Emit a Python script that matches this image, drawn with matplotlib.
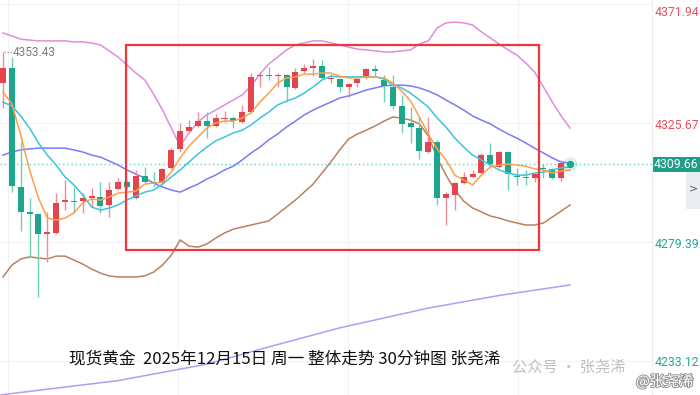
import matplotlib
matplotlib.use("Agg")
import matplotlib.pyplot as plt
import matplotlib.transforms as mtransforms
import matplotlib.patheffects as pe
from matplotlib.patches import Rectangle
import numpy as np

plt.rcParams['font.family'] = ['Noto Sans CJK SC', 'DejaVu Sans']

# ---------------- data (30-min XAUUSD candles) ----------------
opens = [4341.22, 4347.05, 4300.78, 4291.05, 4290.28, 4282.50, 4282.89, 4294.94, 4295.33, 4295.33,
         4296.50, 4296.89, 4293.78, 4300.00, 4302.72, 4296.50, 4305.05, 4302.72, 4302.33, 4308.16,
         4315.55, 4322.55, 4324.50, 4326.44, 4324.50, 4327.22, 4327.61, 4326.05, 4329.94, 4343.94,
         4344.33, 4343.94, 4344.33, 4339.28, 4345.89, 4347.05, 4347.83, 4342.78, 4342.78, 4339.67,
         4341.22, 4343.17, 4346.67, 4342.39, 4339.67, 4332.28, 4325.67, 4323.72, 4314.39, 4318.28,
         4296.50, 4297.66, 4302.33, 4304.66, 4306.22, 4313.22, 4308.55, 4314.39, 4305.05, 4304.66,
         4304.28, 4308.16, 4307.78, 4304.28]
highs = [4353.43, 4351.33, 4318.28, 4296.50, 4290.66, 4291.05, 4298.44, 4303.50, 4300.78, 4298.44,
         4300.39, 4302.72, 4302.72, 4304.28, 4303.50, 4307.39, 4308.55, 4306.61, 4308.16, 4315.94,
         4325.67, 4326.83, 4329.94, 4329.94, 4329.17, 4330.33, 4328.39, 4332.67, 4345.11, 4345.50,
         4347.44, 4345.11, 4344.72, 4347.05, 4348.61, 4350.55, 4350.17, 4344.72, 4343.17, 4341.22,
         4343.17, 4347.05, 4348.22, 4344.33, 4344.33, 4336.55, 4331.89, 4328.00, 4328.00, 4319.05,
         4298.83, 4302.72, 4306.61, 4307.39, 4314.00, 4317.89, 4314.78, 4314.78, 4308.16, 4307.39,
         4306.22, 4309.72, 4308.16, 4311.28]
lows = [4331.50, 4298.83, 4283.66, 4273.55, 4258.00, 4271.61, 4282.50, 4291.83, 4290.66, 4290.66,
        4293.00, 4290.66, 4289.11, 4299.61, 4300.00, 4296.11, 4302.33, 4300.78, 4301.94, 4307.78,
        4314.39, 4322.17, 4324.11, 4319.83, 4324.11, 4326.05, 4323.72, 4325.67, 4329.55, 4339.67,
        4342.39, 4339.67, 4333.83, 4338.89, 4345.11, 4343.94, 4342.78, 4341.22, 4337.72, 4335.78,
        4339.67, 4342.78, 4343.55, 4333.83, 4331.11, 4321.78, 4317.89, 4311.66, 4314.00, 4293.78,
        4286.00, 4291.83, 4301.94, 4304.28, 4305.83, 4309.33, 4308.16, 4299.61, 4301.55, 4301.55,
        4302.72, 4304.28, 4303.89, 4303.11]
closes = [4347.05, 4301.16, 4291.05, 4290.28, 4282.50, 4283.28, 4294.55, 4295.72, 4294.94, 4296.50,
          4297.28, 4293.39, 4299.61, 4302.72, 4300.78, 4305.05, 4302.72, 4301.94, 4307.78, 4315.16,
          4322.55, 4324.11, 4326.44, 4324.50, 4327.61, 4327.61, 4326.44, 4329.94, 4343.55, 4344.33,
          4343.94, 4344.33, 4339.67, 4345.50, 4347.05, 4347.83, 4343.17, 4343.17, 4339.67, 4340.83,
          4342.78, 4346.67, 4345.89, 4340.05, 4332.28, 4325.28, 4324.11, 4314.78, 4318.28, 4296.50,
          4298.05, 4302.33, 4304.66, 4305.83, 4313.22, 4309.72, 4314.39, 4305.83, 4304.66, 4304.28,
          4305.83, 4307.78, 4304.28, 4310.11]

# indicator lines (one value per candle slot 0..64)
ma_fast = [4337.7, 4333.1, 4321.0, 4307.4, 4296.5, 4288.7, 4287.9, 4288.7, 4290.7, 4294.6,
           4296.1, 4295.7, 4296.9, 4298.4, 4298.8, 4299.2, 4301.9, 4302.3, 4302.7, 4306.6,
           4312.1, 4316.7, 4320.2, 4323.7, 4325.7, 4326.4, 4326.4, 4327.6, 4329.6, 4333.8,
           4337.3, 4341.2, 4343.2, 4343.6, 4344.7, 4344.7, 4345.1, 4345.1, 4343.9, 4343.2,
           4343.2, 4343.6, 4343.6, 4343.2, 4341.2, 4338.1, 4334.2, 4328.0, 4321.4, 4315.6,
           4311.3, 4305.4, 4303.5, 4301.6, 4305.4, 4308.6, 4309.3, 4309.7, 4309.3, 4308.9,
           4307.8, 4307.4, 4306.2, 4307.0, 4307.4]
ma_mid = [4333.8, 4332.3, 4328.4, 4323.7, 4317.9, 4313.2, 4309.3, 4304.7, 4301.6, 4297.7,
          4293.0, 4291.8, 4292.6, 4293.8, 4295.7, 4297.3, 4298.8, 4299.6, 4301.9, 4304.7,
          4307.4, 4310.5, 4313.6, 4316.3, 4318.7, 4320.2, 4321.8, 4322.9, 4324.9, 4327.6,
          4329.9, 4332.7, 4334.2, 4335.4, 4337.3, 4339.7, 4342.4, 4343.9, 4343.6, 4343.6,
          4343.6, 4343.6, 4343.6, 4342.8, 4340.4, 4339.3, 4337.3, 4334.6, 4331.9, 4327.6,
          4324.1, 4319.8, 4316.3, 4313.2, 4311.3, 4309.3, 4307.4, 4306.2, 4305.4, 4305.4,
          4306.2, 4306.6, 4307.4, 4308.2, 4308.6]
ma_slow = [4313.2, 4314.4, 4315.2, 4315.6, 4315.9, 4315.9, 4315.9, 4315.9, 4315.2, 4314.4,
           4313.2, 4312.4, 4310.9, 4309.3, 4307.4, 4305.8, 4304.3, 4302.3, 4300.8, 4299.6,
           4298.8, 4300.4, 4301.9, 4303.9, 4305.4, 4307.4, 4308.9, 4311.3, 4314.0, 4316.3,
           4319.1, 4321.4, 4324.1, 4326.4, 4328.8, 4330.7, 4332.3, 4333.8, 4335.4, 4336.2,
           4337.3, 4338.5, 4339.3, 4340.1, 4340.4, 4340.4, 4340.1, 4339.3, 4338.1, 4336.6,
           4334.6, 4332.7, 4330.7, 4328.4, 4326.8, 4325.3, 4323.3, 4321.4, 4319.8, 4317.9,
           4315.9, 4314.0, 4312.1, 4310.5, 4310.1]
boll_up = [4360.7, 4359.5, 4358.3, 4357.9, 4357.6, 4357.6, 4357.6, 4357.6, 4357.2, 4357.2,
           4356.8, 4356.0, 4353.7, 4351.3, 4348.2, 4345.1, 4342.4, 4336.9, 4330.7, 4323.7,
           4316.7, 4321.8, 4326.1, 4328.8, 4330.7, 4332.7, 4334.6, 4336.6, 4340.1, 4344.7,
           4348.6, 4351.3, 4354.1, 4356.0, 4356.8, 4357.6, 4357.6, 4356.8, 4356.0, 4355.2,
           4354.4, 4354.1, 4353.7, 4353.3, 4353.3, 4353.7, 4354.1, 4356.4, 4357.6, 4362.6,
           4364.6, 4364.9, 4364.6, 4363.8, 4361.1, 4358.7, 4356.4, 4354.1, 4352.1, 4349.0,
           4345.5, 4339.7, 4333.8, 4328.4, 4323.7]
boll_dn = [4265.8, 4270.4, 4272.8, 4273.6, 4273.2, 4272.8, 4273.9, 4273.9, 4272.4, 4270.8,
           4268.9, 4267.3, 4266.2, 4265.8, 4265.8, 4265.8, 4266.2, 4267.7, 4270.4, 4274.3,
           4280.2, 4277.8, 4277.4, 4278.6, 4280.9, 4282.9, 4284.4, 4285.2, 4286.0, 4286.8,
           4287.6, 4290.3, 4293.0, 4295.7, 4298.8, 4301.9, 4306.2, 4310.5, 4315.2, 4319.4,
           4321.4, 4322.9, 4324.5, 4326.4, 4328.0, 4327.6, 4326.8, 4325.3, 4320.6, 4312.1,
           4305.4, 4299.6, 4295.3, 4292.6, 4291.1, 4289.5, 4288.7, 4287.6, 4286.8, 4286.0,
           4286.0, 4286.8, 4289.1, 4291.4, 4293.8]
ma_long_idx = [-0.35, 13, 23, 30, 38, 48, 56, 64]
ma_long = [4219.9, 4225.5, 4231.9, 4238.6, 4246.0, 4253.7, 4258.6, 4262.7]

last_price = 4309.66
high_mark = 4353.43
axis_labels = ["4371.94", "4325.67", "4279.39", "4233.12"]
axis_values = [4371.94, 4325.67, 4279.39, 4233.12]
title_text = "现货黄金  2025年12月15日 周一 整体走势 30分钟图 张尧浠"

# ---------------- style ----------------
UP = '#e5444f'
DN = '#1ea68c'
UP_W = '#ef8e97'
DN_W = '#6fcdb9'

W, H, DPI = 700, 395, 100
fig = plt.figure(figsize=(W / DPI, H / DPI), dpi=DPI)
fig.patch.set_facecolor('white')
ax = fig.add_axes([0, 0, 652 / W, 1])
ax.set_facecolor('white')
for s in ax.spines.values():
    s.set_visible(False)
ax.set_xticks([])
ax.set_yticks([])

px = 8.86  # pixels per candle
x_left = -3 / px
x_right = (652 - 3) / px
ax.set_xlim(x_left, x_right)
ax.set_ylim(4219.9, 4373.5)

# grid
for v in axis_values:
    ax.axhline(v, color='#f0f2f6', lw=0.8, zorder=0)
for gx in [5 / px, 175 / px, 345 / px, 515 / px]:
    ax.axvline(gx, color='#f0f2f6', lw=0.8, zorder=0)

n = len(opens)
idx = np.arange(n)
o = np.array(opens); c = np.array(closes); h = np.array(highs); l = np.array(lows)
up = c >= o

# lines
li = np.arange(len(ma_fast))
ax.plot(ma_long_idx, ma_long, color='#b49cf2', lw=1.1, zorder=2)
ax.plot(li, boll_up, color='#e08ddc', lw=1.1, zorder=2)
ax.plot(li, boll_dn, color='#b9825f', lw=1.1, zorder=2)
ax.plot(li, ma_slow, color='#7a7cf5', lw=1.1, zorder=2)

# wicks
ax.vlines(idx[up], l[up], h[up], color=UP_W, lw=1.0, zorder=3)
ax.vlines(idx[~up], l[~up], h[~up], color=DN_W, lw=1.0, zorder=3)
# bodies
bottoms = np.minimum(o, c)
heights = np.maximum(np.abs(c - o), 0.5)
ax.bar(idx, heights, bottom=bottoms, width=0.68,
       color=[UP if u else DN for u in up], zorder=4, linewidth=0)

ax.plot(li, ma_mid, color='#3ec3de', lw=1.1, zorder=5)
ax.plot(li, ma_fast, color='#fda04a', lw=1.1, zorder=5)

# last price dotted line
ax.axhline(last_price, color='#6ccdbb', lw=1.0, ls=(0, (1, 2)), zorder=1)
# current dot with glow
ax.scatter([64], [last_price], s=110, color='#1ea68c', alpha=0.15, zorder=6, linewidths=0)
ax.scatter([64], [last_price], s=28, color='#1ea68c', zorder=7, linewidths=0)

# red annotation box
rect = Rectangle((123 / px, 4276.3), (536 - 123) / px, 4356.0 - 4276.3,
                 fill=False, edgecolor='#f5333d', lw=1.6, zorder=8)
ax.add_patch(rect)

# high marker
ax.plot([0.1, 1.0], [high_mark - 0.3, high_mark - 0.3], color='#9598a1', lw=0.9, ls=(0, (1, 1.5)), zorder=6)
ax.text(1.05, high_mark - 0.3, f"{high_mark:.2f}", fontsize=8.5, color='#787b86',
        va='center', ha='left', family=['Roboto', 'DejaVu Sans'], zorder=9)

# right price scale
fig.add_artist(plt.Line2D([652 / W, 652 / W], [0, 1], color='#eceef2', lw=0.8))
trans = mtransforms.blended_transform_factory(fig.transFigure, ax.transData)
label_cols = ['#e9505b', '#e9505b', '#22a991', '#22a991']
label_pos = [4368.8, axis_values[1] - 0.8, axis_values[2] - 1.0, axis_values[3] - 0.6]
for t, yv, col in zip(axis_labels, label_pos, label_cols):
    ax.text(655 / W, yv, t, transform=trans, fontsize=8.8, color=col, va='center', ha='left',
            family=['Roboto', 'DejaVu Sans'], clip_on=False)
# last price tag
ax.add_patch(Rectangle((652 / W, last_price - 3.1), 48 / W, 6.0, transform=trans,
                       facecolor='#1f9e86', edgecolor='none', clip_on=False, zorder=10))
ax.text(676 / W, last_price - 0.1, f"{last_price:.2f}", transform=trans, fontsize=8.8, color='white',
        va='center', ha='center', family=['Roboto', 'DejaVu Sans'], clip_on=False, zorder=11)
ax.add_patch(Rectangle((686 / W, last_price - 17.5), 14 / W, 14.4, transform=trans,
                       facecolor='#ebebf2', edgecolor='none', clip_on=False, zorder=10))
ax.text(693 / W, last_price - 9.5, ">", transform=trans, fontsize=8, color='#5d606b',
        va='center', ha='center', clip_on=False, zorder=11, family=['DejaVu Sans'])

# caption
fig.text(285 / W, 1 - 359 / H, title_text, fontsize=12, color='#111111', ha='center', va='center',
         family=['Noto Sans CJK SC', 'DejaVu Sans'])
# watermark
fig.text(512 / W, 1 - 367 / H, "公众号 · 张尧浠", fontsize=11, color='#b0b0b0', alpha=0.8,
         ha='left', va='center', family=['Noto Sans CJK SC', 'DejaVu Sans'])
fig.text(636 / W, 1 - 382 / H, "@张尧浠", fontsize=10.5, color='white', ha='left', va='center',
         family=['Noto Sans CJK SC', 'DejaVu Sans'],
         path_effects=[pe.withStroke(linewidth=1.5, foreground='#9a9a9a')])

fig.savefig('out.png', dpi=DPI, facecolor='white')
